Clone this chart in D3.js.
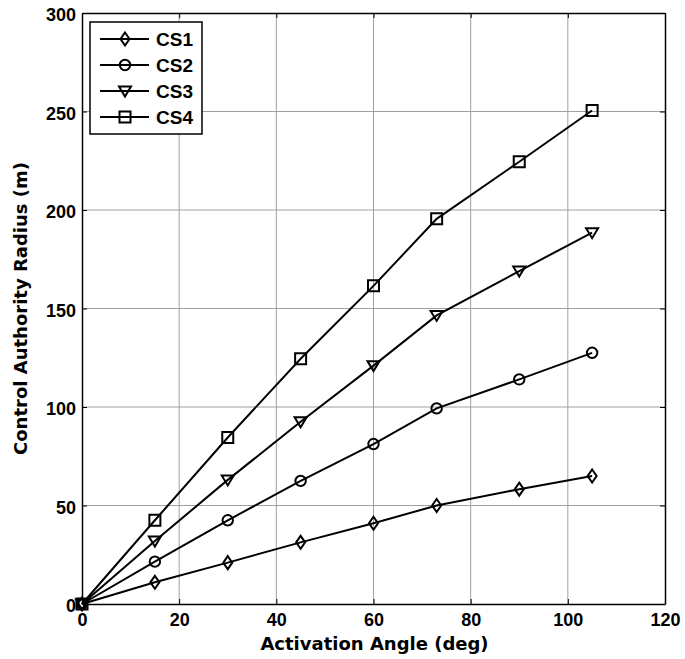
<!DOCTYPE html>
<html>
<head>
<meta charset="utf-8">
<script src="https://cdn.jsdelivr.net/npm/d3@7/dist/d3.min.js"></script>
<style>
  html, body { margin: 0; padding: 0; background: #fff; }
  svg { display: block; }
</style>
</head>
<body>
<svg id="chart" width="685" height="659"></svg>
<script>
// Activation angle (deg) sampled for every configuration
const angles = [0, 15, 30, 45, 60, 73, 90, 105];

// Control authority radius (m) per configuration
const cs1 = [0, 11, 21, 31.3, 41, 50, 58.3, 65];
const cs2 = [0, 21.5, 42.5, 62.5, 81.2, 99.3, 114, 127.5];
const cs3 = [0, 32, 63, 92.5, 121, 146.5, 169, 188.5];
const cs4 = [0, 42.5, 84.5, 124.5, 161.5, 195.5, 224.5, 250.5];

const seriesNames = ["CS1", "CS2", "CS3", "CS4"];
const seriesMarkers = ["diamond", "circle", "triangle", "square"];

const xTicks = [0, 20, 40, 60, 80, 100, 120];
const yTicks = [0, 50, 100, 150, 200, 250, 300];

const xTitle = "Activation Angle (deg)";
const yTitle = "Control Authority Radius (m)";

const series = [cs1, cs2, cs3, cs4].map((vals, i) => ({
  name: seriesNames[i],
  marker: seriesMarkers[i],
  points: angles.map((a, j) => ({ x: a, y: vals[j] }))
}));

const svg = d3.select("#chart");
const m = { left: 82, right: 20, top: 13, bottom: 55 };
const W = 685, H = 659;
const iw = W - m.left - m.right;
const ih = H - m.top - m.bottom;

const x = d3.scaleLinear().domain([0, 120]).range([0, iw]);
const y = d3.scaleLinear().domain([0, 300]).range([ih, 0]);

const g = svg.append("g").attr("transform", `translate(${m.left},${m.top})`);

// grid
g.append("g").selectAll("line").data(xTicks.slice(1, -1)).join("line")
  .attr("x1", d => x(d)).attr("x2", d => x(d))
  .attr("y1", 0).attr("y2", ih)
  .attr("stroke", "#a0a0a0").attr("stroke-width", 1);
g.append("g").selectAll("line").data(yTicks.slice(1, -1)).join("line")
  .attr("y1", d => y(d)).attr("y2", d => y(d))
  .attr("x1", 0).attr("x2", iw)
  .attr("stroke", "#a0a0a0").attr("stroke-width", 1);

// axes with inward ticks on all four sides
const tickFont = "bold 18px 'Liberation Sans', Arial, sans-serif";
g.append("g").attr("transform", `translate(0,${ih})`)
  .call(d3.axisBottom(x).tickValues(xTicks).tickSizeInner(-5).tickSizeOuter(0).tickPadding(9));
g.append("g")
  .call(d3.axisLeft(y).tickValues(yTicks).tickSizeInner(-5).tickSizeOuter(0).tickPadding(6))
  .selectAll(".tick text").attr("dy", "0.42em");
g.append("g")
  .call(d3.axisTop(x).tickValues(xTicks).tickSizeInner(-5).tickSizeOuter(0).tickFormat(""));
g.append("g").attr("transform", `translate(${iw},0)`)
  .call(d3.axisRight(y).tickValues(yTicks).tickSizeInner(-5).tickSizeOuter(0).tickFormat(""));

g.selectAll(".domain").attr("stroke", "#000").attr("stroke-width", 1.5);
g.selectAll(".tick line").attr("stroke", "#000").attr("stroke-width", 1);
g.selectAll(".tick text").style("font", tickFont).attr("fill", "#000");

// marker symbols
function symbolFor(kind) {
  switch (kind) {
    case "diamond": return "M0,-6.5L4.5,0L0,6.5L-4.5,0Z";
    case "circle": return d3.symbol(d3.symbolCircle, 85)();
    case "triangle": return "M-6,-4.5L6,-4.5L0,5.5Z";
    case "square": return "M-5.5,-5.5H5.5V5.5H-5.5Z";
  }
}

const line = d3.line().x(d => x(d.x)).y(d => y(d.y));

series.forEach(s => {
  g.append("path").datum(s.points)
    .attr("d", line)
    .attr("fill", "none").attr("stroke", "#000").attr("stroke-width", 2);
  g.append("g").selectAll("path").data(s.points).join("path")
    .attr("transform", d => `translate(${x(d.x)},${y(d.y)})`)
    .attr("d", symbolFor(s.marker))
    .attr("fill", "none").attr("stroke", "#000").attr("stroke-width", 2);
});

// axis titles
const titleFont = "bold 18px 'DejaVu Sans', Verdana, sans-serif";
svg.append("text")
  .attr("x", m.left + iw / 2 + 1).attr("y", 650)
  .attr("text-anchor", "middle")
  .style("font", titleFont).attr("fill", "#000")
  .text(xTitle);
svg.append("text")
  .attr("transform", `translate(27,${m.top + ih / 2}) rotate(-90)`)
  .attr("text-anchor", "middle")
  .style("font", titleFont).attr("fill", "#000")
  .text(yTitle);

// legend
const lg = svg.append("g").attr("transform", "translate(90,22)");
lg.append("rect").attr("width", 112).attr("height", 112)
  .attr("fill", "#fff").attr("stroke", "#000").attr("stroke-width", 1.5);
series.forEach((s, i) => {
  const ly = 17 + i * 26;
  lg.append("line").attr("x1", 10).attr("x2", 59).attr("y1", ly).attr("y2", ly)
    .attr("stroke", "#000").attr("stroke-width", 2);
  lg.append("path").attr("transform", `translate(35,${ly})`)
    .attr("d", symbolFor(s.marker))
    .attr("fill", "none").attr("stroke", "#000").attr("stroke-width", 2);
  lg.append("text").attr("x", 66).attr("y", ly + 7)
    .style("font", "bold 19px 'Liberation Sans', Arial, sans-serif").attr("fill", "#000")
    .text(s.name);
});
</script>
</body>
</html>
